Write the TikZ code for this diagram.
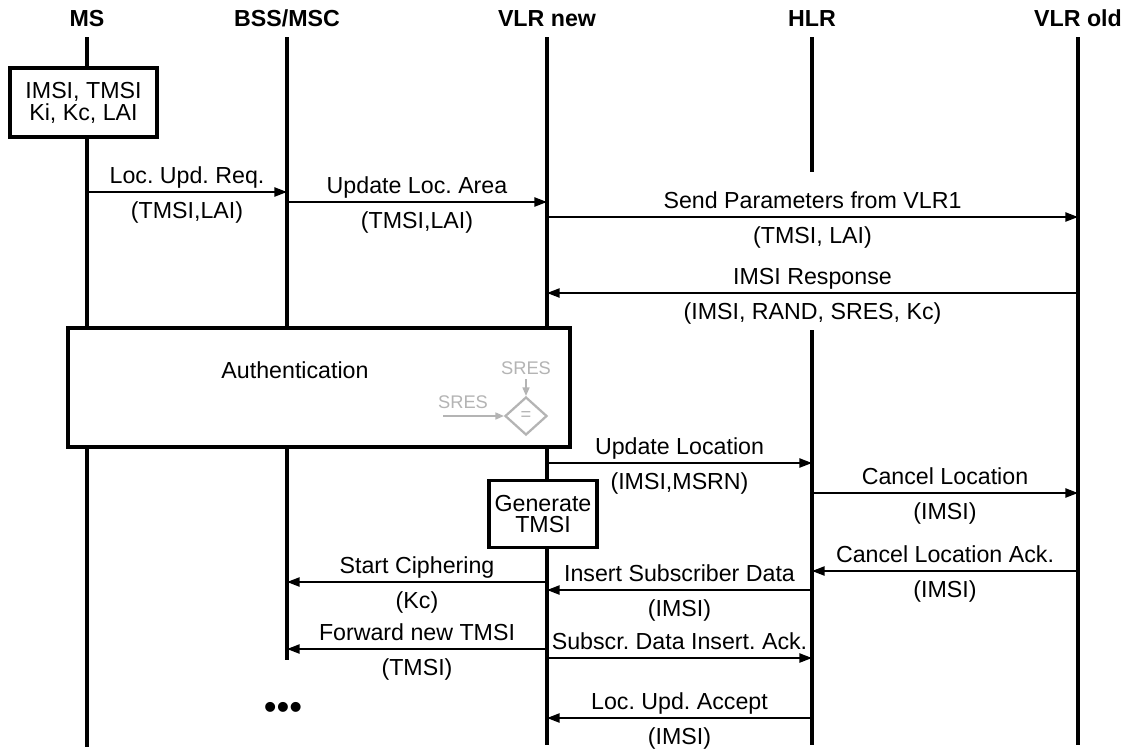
\documentclass[tikz,border=0pt]{standalone}
\usepackage{fontspec}
\setmainfont{Liberation Sans}
\usetikzlibrary{arrows.meta,shapes.geometric}
\definecolor{cmpgray}{HTML}{B4B4B4}
\frenchspacing

\begin{document}
\begin{tikzpicture}[x=0.025cm,y=-0.025cm,>={Triangle[length=9pt,width=6.5pt]},font=\fontsize{16.5}{19}\selectfont]
\tikzset{head/.style={font=\fontsize{16.5}{19}\selectfont\bfseries,anchor=base},
  life/.style={line width=2.4pt},
  box/.style={draw,line width=2.6pt,fill=white,align=center,inner sep=1pt,font=\fontsize{16.5}{15.5}\selectfont},
  msg/.style={->,line width=1.4pt},
  lbl/.style={inner sep=0pt,text height=0.75em,text depth=0.22em},
  cmp/.style={draw=cmpgray,line width=1.6pt,text=cmpgray},
  cmptxt/.style={anchor=base,text=cmpgray,font=\fontsize{13}{15}\selectfont}}
\useasboundingbox (0,0) rectangle (1128,751);

% entities and their lifelines
\foreach \n/\x/\t/\e in {ms/87/MS/747,bss/287/{BSS/MSC}/660,vnew/547/VLR new/745,hlr/812/HLR/745,vold/1078/VLR old/745}{
  \node[head] (\n) at (\x,26) {\t};
  \coordinate (\n-top) at (\x,37);
  \coordinate (\n-bot) at (\x,\e);
}
\draw[life] (ms-top) -- (ms-bot);
\draw[life] (bss-top) -- (bss-bot);
\draw[life] (vnew-top) -- (vnew-bot);
\draw[life] (vold-top) -- (vold-bot);
% HLR line hidden behind the VLR1 labels
\coordinate (hlr-cut1) at (812,172);
\coordinate (hlr-cut2) at (812,330);
\draw[life] (hlr-top) -- (hlr-cut1) (hlr-cut2) -- (hlr-bot);

% boxes
\node[box,minimum width=3.675cm,minimum height=1.725cm] (keys) at (83.5,102.5) {IMSI, TMSI\\Ki, Kc, LAI};
\node[box,minimum width=12.55cm,minimum height=2.975cm] (auth) at (319,387.5) {};
\node[anchor=base] (authtxt) at (295,378) {Authentication};
\node[box,minimum width=2.7cm,minimum height=1.675cm] (gen) at (543,514) {Generate\\TMSI};

% SRES comparison
\node[cmp,diamond,minimum width=1.05cm,minimum height=0.95cm,inner sep=0pt,font=\fontsize{13}{13}\selectfont] (eq) at (526,416) {=};
\node[cmptxt] (sres1) at (526,374) {SRES};
\node[cmptxt] (sres2) at (463,408) {SRES};
\coordinate (sres2-in) at (443,416);
\draw[-{Triangle[length=6pt,width=5pt]},cmpgray,line width=1pt] (sres1) -- (eq);
\draw[-{Triangle[length=6pt,width=5pt]},cmpgray,line width=1pt] (sres2-in) -- (eq);

% messages
\foreach \f/\t/\y/\up/\dn [count=\i] in {
  ms/bss/192/{Loc. Upd. Req.}/{(TMSI,LAI)},
  bss/vnew/202/{Update Loc. Area}/{(TMSI,LAI)},
  vnew/vold/217/{Send Parameters from VLR1}/{(TMSI, LAI)},
  vold/vnew/293/{IMSI Response}/{(IMSI, RAND, SRES, Kc)},
  vnew/hlr/463/{Update Location}/{(IMSI,MSRN)},
  hlr/vold/493/{Cancel Location}/{(IMSI)},
  vold/hlr/571/{Cancel Location Ack.}/{(IMSI)},
  vnew/bss/582/{Start Ciphering}/{(Kc)},
  hlr/vnew/590/{Insert Subscriber Data}/{(IMSI)},
  vnew/bss/649/{Forward new TMSI}/{(TMSI)},
  vnew/hlr/658/{Subscr. Data Insert. Ack.}/{},
  hlr/vnew/718/{Loc. Upd. Accept}/{(IMSI)}}{
  \coordinate (m\i-a) at (\f |- 0,\y);
  \coordinate (m\i-b) at (\t |- 0,\y);
  \draw[msg] (m\i-a) -- node[lbl,above=3.3pt] {\up} node[lbl,below=10.5pt] {\dn} (m\i-b);
}

\node (more) at (283,711) {\fontsize{26}{26}\selectfont\textbullet\textbullet\textbullet};
\end{tikzpicture}
\end{document}
